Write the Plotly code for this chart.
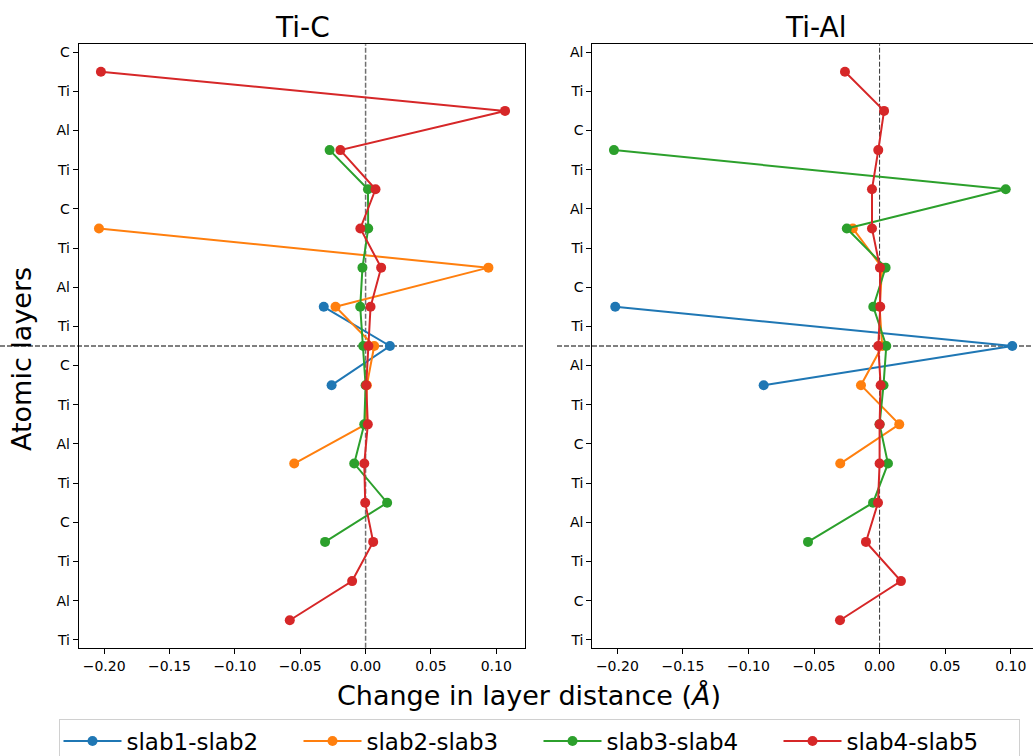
import plotly.graph_objects as go

# ---------------- data ----------------
tic_layers = ["C", "Ti", "Al", "Ti", "C", "Ti", "Al", "Ti",
              "C", "Ti", "Al", "Ti", "C", "Ti", "Al", "Ti"]
tial_layers = ["Al", "Ti", "C", "Ti", "Al", "Ti", "C", "Ti",
               "Al", "Ti", "C", "Ti", "Al", "Ti", "C", "Ti"]

series_names = ["slab1-slab2", "slab2-slab3", "slab3-slab4", "slab4-slab5"]
series_colors = ["#1f77b4", "#ff7f0e", "#2ca02c", "#d62728"]

# interface positions (between atomic layers, layer index from top)
pos_s1 = [6.5, 7.5, 8.5]
pos_s2 = [4.5, 5.5, 6.5, 7.5, 8.5, 9.5, 10.5]
pos_s3 = [2.5, 3.5, 4.5, 5.5, 6.5, 7.5, 8.5, 9.5, 10.5, 11.5, 12.5]
pos_s4 = [0.5, 1.5, 2.5, 3.5, 4.5, 5.5, 6.5, 7.5, 8.5, 9.5, 10.5, 11.5, 12.5, 13.5, 14.5]

# Ti-C changes in layer distance (Å)
tic_s1 = [-0.032, 0.0186, -0.026]
tic_s2 = [-0.204, 0.094, -0.023, 0.0066, 0.001, 0.0, -0.0546]
tic_s3 = [-0.0275, 0.0018, 0.002, -0.0024, -0.0041, -0.0018, 0.0, -0.001, -0.0087, 0.0165, -0.031]
tic_s4 = [-0.2025, 0.1067, -0.0193, 0.0076, -0.004, 0.0119, 0.0038, 0.0022, 0.0005,
          0.0017, -0.001, -0.0003, 0.0058, -0.0103, -0.058]

# Ti-Al changes in layer distance (Å)
tial_s1 = [-0.2016, 0.1012, -0.0884]
tial_s2 = [-0.0204, 0.002, 0.0, 0.002, -0.0142, 0.015, -0.030]
tial_s3 = [-0.2026, 0.0962, -0.025, 0.0046, -0.0048, 0.0051, 0.003, 0.0, 0.0064, -0.005, -0.0546]
tial_s4 = [-0.0264, 0.0034, -0.001, -0.0058, -0.0058, 0.0003, 0.0005, -0.001, 0.0008,
           0.0, 0.0, -0.0012, -0.0104, 0.0163, -0.0302]

interface_boundary = 7.5
x_ticks = [-0.20, -0.15, -0.10, -0.05, 0.00, 0.05, 0.10]

W, H = 1033, 780   # canvas slightly taller than the 756 px view so the legend fits

fig = go.Figure()

positions = [pos_s1, pos_s2, pos_s3, pos_s4]
tic_vals = [tic_s1, tic_s2, tic_s3, tic_s4]
tial_vals = [tial_s1, tial_s2, tial_s3, tial_s4]

for name, col, ys, xs in zip(series_names, series_colors, positions, tic_vals):
    fig.add_trace(go.Scatter(x=xs, y=ys, mode="lines+markers", name=name,
                             line=dict(color=col, width=2),
                             marker=dict(color=col, size=10),
                             xaxis="x", yaxis="y", legendgroup=name))
for name, col, ys, xs in zip(series_names, series_colors, positions, tial_vals):
    fig.add_trace(go.Scatter(x=xs, y=ys, mode="lines+markers", name=name,
                             line=dict(color=col, width=2),
                             marker=dict(color=col, size=10),
                             xaxis="x2", yaxis="y2", legendgroup=name, showlegend=False))

font_fam = "DejaVu Sans"
common_x = dict(showgrid=False, zeroline=False, showline=True, linecolor="black", linewidth=1,
                ticks="outside", ticklen=5, tickwidth=1, tickcolor="black",
                tickvals=x_ticks, tickformat=".2f",
                tickfont=dict(size=14, color="black", family=font_fam), automargin=False)
common_y = dict(showgrid=False, zeroline=False, showline=True, linecolor="black", linewidth=1,
                ticks="outside", ticklen=5, tickwidth=1, tickcolor="black",
                tickvals=list(range(len(tic_layers))),
                tickfont=dict(size=14, color="black", family=font_fam), automargin=False)


def py(px):
    return 1 - px / H


x1_dom = [78.7 / W, 525.3 / W]
x2_dom = [592.3 / W, 1.0]
y_dom = [py(647.7), py(44.3)]

fig.update_layout(
    width=W, height=H,
    margin=dict(l=0, r=0, t=0, b=0),
    paper_bgcolor="white", plot_bgcolor="white",
    font=dict(family=font_fam, color="black"),
    xaxis=dict(domain=x1_dom, range=[-0.2195, 0.1222], mirror=True, **common_x),
    xaxis2=dict(domain=x2_dom, range=[-0.2191, 0.117], mirror=True, anchor="y2", **common_x),
    yaxis=dict(domain=y_dom, range=[15.2, -0.2], ticktext=tic_layers, mirror=True, anchor="x", **common_y),
    yaxis2=dict(domain=y_dom, range=[15.2, -0.2], ticktext=tial_layers, mirror=False, anchor="x2", **common_y),
    showlegend=True,
    legend=dict(orientation="h", x=58.5 / W, y=py(718.5), xanchor="left", yanchor="top",
                font=dict(size=23, color="black", family=font_fam),
                bordercolor="#d0d0d0", borderwidth=1, bgcolor="white",
                itemwidth=58, entrywidth=167, entrywidthmode="pixels"),
)

# reference lines
shapes = [
    dict(type="line", xref="x", yref="y domain", x0=0, x1=0, y0=0, y1=1,
         line=dict(color="#707070", width=1.5, dash="5px,2px"), layer="below"),
    dict(type="line", xref="x2", yref="y2 domain", x0=0, x1=0, y0=0, y1=1,
         line=dict(color="#333333", width=1, dash="5px,2px"), layer="below"),
    dict(type="line", xref="paper", yref="y", x0=0, x1=x1_dom[1], y0=interface_boundary, y1=interface_boundary,
         line=dict(color="black", width=1, dash="5px,2px"), layer="below"),
    dict(type="line", xref="paper", yref="y2", x0=557 / W, x1=1.0, y0=interface_boundary, y1=interface_boundary,
         line=dict(color="black", width=1, dash="5px,2px"), layer="below"),
]
fig.update_layout(shapes=shapes)

annotations = [
    dict(text="Ti-C", x=(x1_dom[0] + x1_dom[1]) / 2, y=py(27.5), xref="paper", yref="paper",
         showarrow=False, font=dict(size=28, color="black", family=font_fam), xanchor="center", yanchor="middle"),
    dict(text="Ti-Al", x=815.6 / W, y=py(27.5), xref="paper", yref="paper",
         showarrow=False, font=dict(size=28, color="black", family=font_fam), xanchor="center", yanchor="middle"),
    dict(text="Change in layer distance (<i>Å</i>)", x=529 / W, y=py(695), xref="paper", yref="paper",
         showarrow=False, font=dict(size=27, color="black", family=font_fam), xanchor="center", yanchor="middle"),
    dict(text="Atomic layers", x=22 / W, y=py(359), xref="paper", yref="paper", textangle=-90,
         showarrow=False, font=dict(size=27, color="black", family=font_fam), xanchor="center", yanchor="middle"),
]
fig.update_layout(annotations=annotations)

fig.write_html("out.html", config={"displayModeBar": False},
               post_script="document.body.style.margin='0';document.body.style.overflow='hidden';")
